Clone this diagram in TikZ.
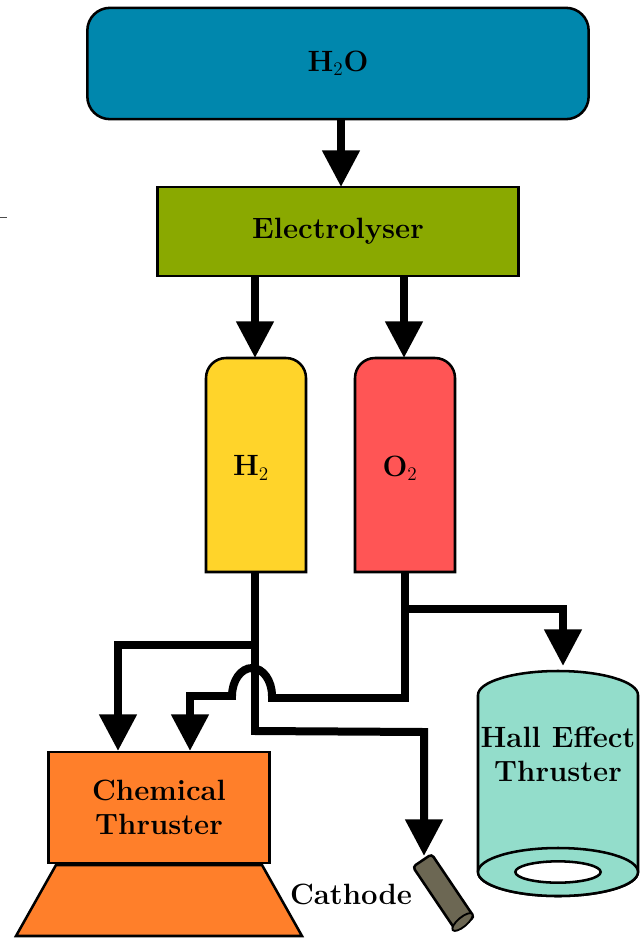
\documentclass[tikz,border=0pt]{standalone}
\usetikzlibrary{arrows.meta}
\definecolor{cwater}{HTML}{0087AD}
\definecolor{celec}{HTML}{8AA900}
\definecolor{chyd}{HTML}{FFD42A}
\definecolor{coxy}{HTML}{FF5555}
\definecolor{cchem}{HTML}{FF7F2A}
\definecolor{chall}{HTML}{93DDCB}
\definecolor{ccath}{HTML}{6C6753}
\tikzset{
  boxline/.style={draw=black,line width=1.9pt},
  lbl/.style={font=\fontsize{22}{25.5}\selectfont\bfseries,align=center,inner sep=0pt,text=black},
  pipe/.style={line width=6pt,draw=black},
  feed/.style={pipe,-{Triangle[length=27.5pt,width=27pt]}},
  box/.style={boxline,inner sep=0pt,outer sep=0pt,font=\fontsize{22}{25.5}\selectfont\bfseries,align=center},
  tankfrm/.style={inner sep=0pt,outer sep=0pt,font=\fontsize{22}{25.5}\selectfont\bfseries}
}
\begin{document}
\begin{tikzpicture}[x=0.75pt,y=-0.75pt]
\useasboundingbox (0,0) rectangle (643,939);
% stray mark
\draw[line width=0.6pt,black!70] (0,217) -- (7,217);
% boxes
\node[box,fill=cwater,rounded corners=17pt,minimum width=376pt,minimum height=83.5pt] (water) at (338,63.5) {H$_2$O};
\node[box,fill=celec,minimum width=271pt,minimum height=66.5pt] (elec) at (338,231.5) {Electrolyser};
% tanks
\draw[boxline,fill=chyd] (206,572) -- (206,378) arc[start angle=180,end angle=90,radius=15pt] -- (286,358) arc[start angle=90,end angle=0,radius=15pt] -- (306,572) -- cycle;
\draw[boxline,fill=coxy] (355,572) -- (355,378) arc[start angle=180,end angle=90,radius=15pt] -- (435,358) arc[start angle=90,end angle=0,radius=15pt] -- (455,572) -- cycle;
\node[tankfrm] (hyd) at (251,468) {H$_2$};
\node[tankfrm] (oxy) at (400,468) {O$_2$};
% chemical thruster
\draw[boxline,fill=cchem] (56,865) -- (262,865) -- (302,936) -- (16,936) -- cycle;
\node[box,fill=cchem,minimum width=166pt,minimum height=83.5pt] (chem) at (159,807.5) {Chemical\\Thruster};
% hall thruster
\draw[boxline,fill=chall] (478,872) -- (478,695) arc[start angle=180,end angle=0,x radius=60pt,y radius=18pt] -- (638,872) arc[start angle=0,end angle=-180,x radius=60pt,y radius=18pt] -- cycle;
\draw[boxline,fill=chall] (558,872) ellipse[x radius=60pt,y radius=18pt];
\draw[boxline,fill=white] (558,872) ellipse[x radius=32pt,y radius=8pt];
\node[lbl] (hall) at (558,754) {Hall Effect\\Thruster};
% cathode
\node[boxline,fill=ccath,rounded corners=2.5pt,rotate=-56,minimum width=57pt,minimum height=17pt,inner sep=0pt,outer sep=0pt] (cath) at (443.5,892) {};
\draw[draw=black,line width=1.4pt,fill=ccath,rotate around={40:(462.5,922)}] (462.5,922) ellipse[x radius=9.5pt,y radius=3.5pt];
\node[lbl] (cathlbl) at (351,894) {Cathode};
% anchor points
\coordinate (w1) at (341,187);
\coordinate (e1) at (255,358);
\coordinate (e2) at (404,358);
\coordinate (h1) at (255,645);
\coordinate (h2) at (118,645);
\coordinate (h3) at (118,751);
\coordinate (h4) at (255,731);
\coordinate (h5) at (424,732);
\coordinate (h6) at (424,856);
\coordinate (o1) at (405,609);
\coordinate (o2) at (563,609);
\coordinate (o3) at (563,666);
\coordinate (o4) at (405,698);
\coordinate (o5) at (268,698);
\coordinate (o6) at (272,696);
\coordinate (o7) at (236,696);
\coordinate (o8) at (190,696);
\coordinate (o9) at (190,751);
\coordinate (ht) at (255,572);
\coordinate (ot) at (405,572);
% connectors
\draw[feed] (water.south -| w1) -- (w1);
\draw[feed] (elec.south -| e1) -- (e1);
\draw[feed] (elec.south -| e2) -- (e2);
\draw[feed] (h1) ++(3,0) -- (h2) -- (h3);
\draw[pipe] (ht) -- (h4) -- ++(-4,0);
\draw[feed] (h4) -- (h5) -- (h6);
\draw[pipe] (ot) -- (o4) -- (o5);
\draw[feed] (o1) -- (o2) -- (o3);
\draw[pipe] (o6) arc[start angle=0,end angle=180,x radius=15pt,y radius=21pt];
\draw[feed] (o7) -- (o8) -- (o9);
\end{tikzpicture}
\end{document}
